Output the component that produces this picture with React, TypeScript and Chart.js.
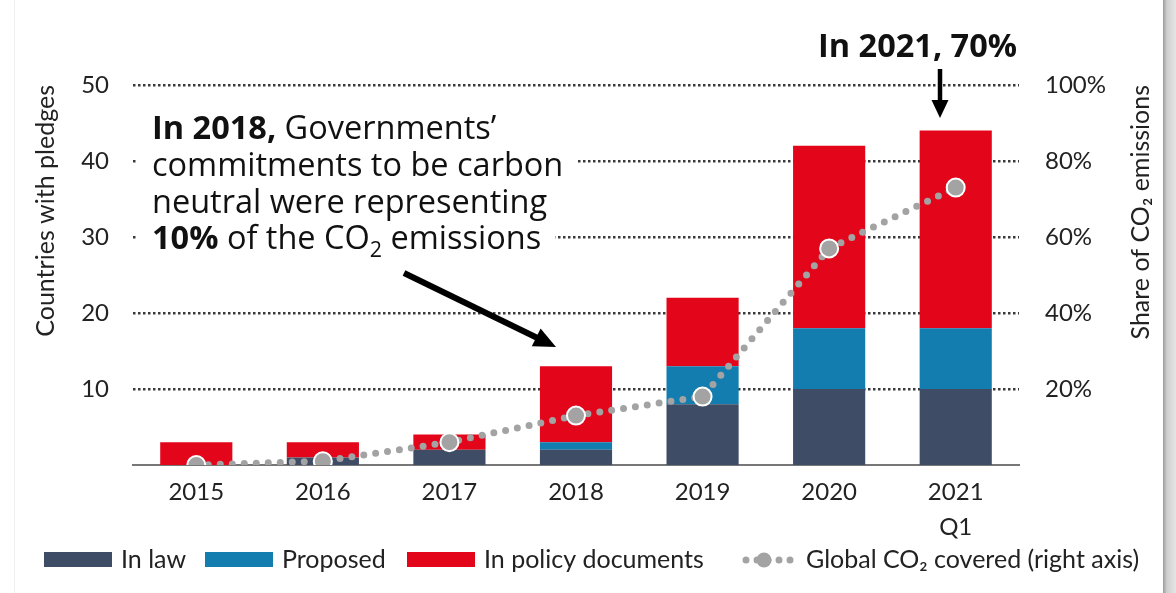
import React, { useEffect, useRef } from 'react';
import { Chart, registerables } from 'chart.js';

Chart.register(...registerables);

const categories: (string | string[])[] = ['2015', '2016', '2017', '2018', '2019', '2020', ['2021', 'Q1']];
const inLaw = [0, 1, 2, 2, 8, 10, 10];
const proposed = [0, 0, 0, 1, 5, 8, 8];
const inPolicy = [3, 2, 2, 10, 9, 24, 26];
const co2Covered = [0, 1, 6, 13, 18, 57, 73];
const leftTicks = [10, 20, 30, 40, 50];
const rightTicks = [20, 40, 60, 80, 100];
const legendLabels = ['In law', 'Proposed', 'In policy documents', 'Global CO₂ covered (right axis)'];

const C_LAW = '#3f4c65';
const C_PROP = '#137db0';
const C_POL = '#e3051a';
const C_DOT = '#a3a3a3';
const TXT = '#222222';
const FONT = 'Lato';
const AFONT = '"Open Sans"';
const ASIZE = 32.5;

const drawArrow = (ctx: CanvasRenderingContext2D, x1: number, y1: number, x2: number, y2: number, lw: number, headLen: number, headW: number) => {
  const ang = Math.atan2(y2 - y1, x2 - x1);
  const bx = x2 - headLen * Math.cos(ang);
  const by = y2 - headLen * Math.sin(ang);
  ctx.save();
  ctx.strokeStyle = '#000';
  ctx.fillStyle = '#000';
  ctx.lineWidth = lw;
  ctx.lineCap = 'butt';
  ctx.beginPath();
  ctx.moveTo(x1, y1);
  ctx.lineTo(bx + Math.cos(ang) * 2, by + Math.sin(ang) * 2);
  ctx.stroke();
  const px = -Math.sin(ang) * headW / 2;
  const py = Math.cos(ang) * headW / 2;
  ctx.beginPath();
  ctx.moveTo(x2, y2);
  ctx.lineTo(bx + px, by + py);
  ctx.lineTo(bx - px, by - py);
  ctx.closePath();
  ctx.fill();
  ctx.restore();
};

type Run = { t: string; bold?: boolean; sub?: boolean };
const noteLines: Run[][] = [
  [{ t: 'In 2018,', bold: true }, { t: ' Governments’' }],
  [{ t: 'commitments to be carbon' }],
  [{ t: 'neutral were representing' }],
  [{ t: '10%', bold: true }, { t: ' of the CO' }, { t: '2', sub: true }, { t: ' emissions' }],
];
const noteBaselines = [139, 176, 213, 249];
const NOTE_X = 152;

const runFont = (r: Run) => (r.sub ? `${ASIZE * 0.66}px ${AFONT}` : `${r.bold ? 'bold ' : ''}${ASIZE}px ${AFONT}`);

const layoutLine = (ctx: CanvasRenderingContext2D, runs: Run[]) => {
  let x = NOTE_X;
  const out: { r: Run; x: number }[] = [];
  runs.forEach((r) => {
    ctx.font = runFont(r);
    out.push({ r, x });
    x += ctx.measureText(r.t).width;
  });
  return { out, end: x };
};

// white panel behind the 2018 text, so that the grid lines stop at it
const textPanelPlugin = {
  id: 'textPanel',
  beforeDatasetsDraw(chart: any) {
    const ctx: CanvasRenderingContext2D = chart.ctx;
    ctx.save();
    ctx.fillStyle = '#ffffff';
    noteLines.forEach((runs, i) => {
      const { end } = layoutLine(ctx, runs);
      ctx.fillRect(137, noteBaselines[i] - 30, end + 14 - 137, 38);
    });
    ctx.restore();
  },
};

const overlayPlugin = {
  id: 'overlay',
  afterDraw(chart: any) {
    const ctx: CanvasRenderingContext2D = chart.ctx;
    ctx.save();
    ctx.fillStyle = '#111';
    ctx.textBaseline = 'alphabetic';
    ctx.textAlign = 'left';

    noteLines.forEach((runs, i) => {
      const { out } = layoutLine(ctx, runs);
      out.forEach(({ r, x }) => {
        ctx.font = runFont(r);
        ctx.fillText(r.t, x, noteBaselines[i] + (r.sub ? 8 : 0));
      });
    });

    ctx.font = `bold ${ASIZE}px ${AFONT}`;
    ctx.fillText('In 2021, 70%', 818, 57);

    drawArrow(ctx, 404, 273, 556, 347, 6, 22, 20);
    drawArrow(ctx, 940, 69, 940, 118, 4.5, 18, 17);

    // right axis title (reads bottom-to-top)
    const area = chart.chartArea;
    ctx.save();
    ctx.translate(1141, area.top);
    ctx.rotate(-Math.PI / 2);
    ctx.font = `25px ${FONT}`;
    ctx.fillStyle = TXT;
    ctx.textAlign = 'right';
    ctx.textBaseline = 'middle';
    ctx.fillText('Share of CO₂ emissions', 0, 0);
    ctx.restore();

    // legend
    const ly = 560;
    const boxes = [
      { x: 44, color: C_LAW },
      { x: 205, color: C_PROP },
      { x: 407, color: C_POL },
    ];
    ctx.font = `25px ${FONT}`;
    ctx.textBaseline = 'middle';
    ctx.textAlign = 'left';
    boxes.forEach((b, i) => {
      ctx.fillStyle = b.color;
      ctx.fillRect(b.x, ly - 8, 68, 15);
      ctx.fillStyle = TXT;
      ctx.fillText(legendLabels[i], b.x + 77, ly);
    });
    ctx.save();
    ctx.strokeStyle = C_DOT;
    ctx.lineWidth = 7;
    ctx.lineCap = 'round';
    ctx.setLineDash([0, 11]);
    ctx.beginPath();
    ctx.moveTo(746, ly);
    ctx.lineTo(792, ly);
    ctx.stroke();
    ctx.setLineDash([]);
    ctx.beginPath();
    ctx.arc(764, ly, 7.5, 0, Math.PI * 2);
    ctx.fillStyle = C_DOT;
    ctx.fill();
    ctx.restore();
    ctx.fillStyle = TXT;
    ctx.fillText(legendLabels[3], 806, ly);

    ctx.restore();
  },
};

export default function App() {
  const canvasRef = useRef<HTMLCanvasElement | null>(null);

  useEffect(() => {
    if (!canvasRef.current) return;
    const chart = new Chart(canvasRef.current, {
      type: 'bar',
      data: {
        labels: categories as any,
        datasets: [
          {
            type: 'line',
            label: legendLabels[3],
            data: co2Covered,
            yAxisID: 'y2',
            order: 0,
            borderColor: C_DOT,
            borderWidth: 7,
            borderDash: [0, 12],
            borderCapStyle: 'round',
            tension: 0,
            pointRadius: 9,
            pointBackgroundColor: C_DOT,
            pointBorderColor: '#ffffff',
            pointBorderWidth: 2,
            fill: false,
          } as any,
          { type: 'bar', label: legendLabels[0], data: inLaw, backgroundColor: C_LAW, yAxisID: 'y', order: 1, stack: 's' } as any,
          { type: 'bar', label: legendLabels[1], data: proposed, backgroundColor: C_PROP, yAxisID: 'y', order: 1, stack: 's' } as any,
          { type: 'bar', label: legendLabels[2], data: inPolicy, backgroundColor: C_POL, yAxisID: 'y', order: 1, stack: 's' } as any,
        ],
      },
      options: {
        animation: false,
        responsive: false,
        maintainAspectRatio: false,
        layout: { padding: { left: 27, right: 17, top: 85, bottom: 48 } },
        datasets: { bar: { barPercentage: 0.57, categoryPercentage: 1 } } as any,
        plugins: {
          legend: { display: false },
          tooltip: { enabled: false },
        },
        scales: {
          x: {
            stacked: true,
            grid: { display: false, drawTicks: false },
            border: { display: true, color: '#777777', width: 2 },
            ticks: {
              color: TXT,
              padding: 10,
              font: { family: FONT, size: 24, lineHeight: 1.45 },
              maxRotation: 0,
              autoSkip: false,
            },
            afterFit: (s: any) => { s.height = 80; },
          },
          y: {
            type: 'linear',
            position: 'left',
            stacked: true,
            min: 0,
            max: 50,
            afterBuildTicks: (s: any) => { s.ticks = leftTicks.map((v) => ({ value: v })); },
            grid: { color: '#3a3a3a', lineWidth: 2.5, drawTicks: false },
            border: { display: false, dash: [2.5, 2.5] },
            ticks: { color: TXT, padding: 24, font: { family: FONT, size: 24 } },
            title: {
              display: true,
              text: 'Countries with pledges',
              align: 'end',
              color: TXT,
              font: { family: FONT, size: 25 },
            },
            afterFit: (s: any) => { s.width = 106; },
          },
          y2: {
            type: 'linear',
            position: 'right',
            min: 0,
            max: 100,
            afterBuildTicks: (s: any) => { s.ticks = rightTicks.map((v) => ({ value: v })); },
            grid: { display: false, drawTicks: false },
            border: { display: false },
            ticks: {
              color: TXT,
              padding: 26,
              font: { family: FONT, size: 24 },
              callback: (v: any) => `${v}%`,
            },
            afterFit: (s: any) => { s.width = 140; },
          },
        },
      } as any,
      plugins: [textPanelPlugin, overlayPlugin],
    });
    return () => chart.destroy();
  }, []);

  return (
    <div style={{ position: 'absolute', left: 0, top: 0, width: 1176, height: 593, background: '#ffffff', overflow: 'hidden' }}>
      <canvas ref={canvasRef} width={1176} height={593} style={{ display: 'block', width: 1176, height: 593 }} />
      <div style={{ position: 'absolute', left: 14, top: 0, width: 1, height: 593, background: '#f0f0f0' }} />
      <div style={{ position: 'absolute', left: 1163, top: 0, width: 13, height: 593, background: 'linear-gradient(to right, #9a9a9a, #cfcfcf 30%, #e6e6e6)' }} />
    </div>
  );
}
